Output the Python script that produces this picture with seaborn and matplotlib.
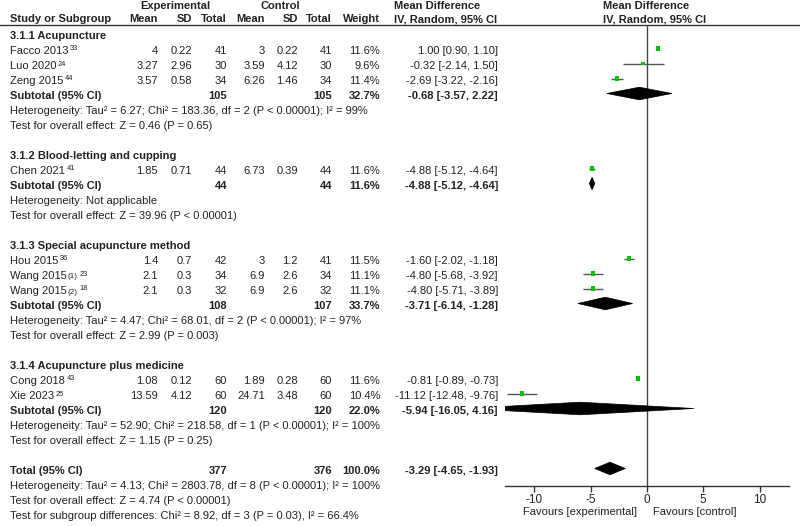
import numpy as np
import pandas as pd
import matplotlib
matplotlib.use("Agg")
import matplotlib.pyplot as plt
from matplotlib.patches import Polygon
import seaborn as sns

# ---- data ----
study = ["Facco 2013", "Luo 2020", "Zeng 2015", "Chen 2021", "Hou 2015",
         "Wang 2015", "Wang 2015", "Cong 2018", "Xie 2023"]
study_tag = ["", "", "", "", "", "(1)", "(2)", "", ""]
study_ref = ["33", "24", "44", "41", "36", "23", "18", "43", "25"]
group = [0, 0, 0, 1, 2, 2, 2, 3, 3]

exp_mean = [4, 3.27, 3.57, 1.85, 1.4, 2.1, 2.1, 1.08, 13.59]
exp_sd = [0.22, 2.96, 0.58, 0.71, 0.7, 0.3, 0.3, 0.12, 4.12]
exp_n = [41, 30, 34, 44, 42, 34, 32, 60, 60]
ctrl_mean = [3, 3.59, 6.26, 6.73, 3, 6.9, 6.9, 1.89, 24.71]
ctrl_sd = [0.22, 4.12, 1.46, 0.39, 1.2, 2.6, 2.6, 0.28, 3.48]
ctrl_n = [41, 30, 34, 44, 41, 34, 32, 60, 60]
weight = [11.6, 9.6, 11.4, 11.6, 11.5, 11.1, 11.1, 11.6, 10.4]
md = [1.00, -0.32, -2.69, -4.88, -1.60, -4.80, -4.80, -0.81, -11.12]
md_lo = [0.90, -2.14, -3.22, -5.12, -2.02, -5.68, -5.71, -0.89, -12.48]
md_hi = [1.10, 1.50, -2.16, -4.64, -1.18, -3.92, -3.89, -0.73, -9.76]

sub_names = ["3.1.1 Acupuncture", "3.1.2 Blood-letting and cupping",
             "3.1.3 Special acupuncture method", "3.1.4 Acupuncture plus medicine"]
sub_exp_n = [105, 44, 108, 120]
sub_ctrl_n = [105, 44, 107, 120]
sub_weight = [32.7, 11.6, 33.7, 22.0]
sub_md = [-0.68, -4.88, -3.71, -5.94]
sub_lo = [-3.57, -5.12, -6.14, -16.05]
sub_hi = [2.22, -4.64, -1.28, 4.16]
sub_het = ["Heterogeneity: Tau² = 6.27; Chi² = 183.36, df = 2 (P < 0.00001); I² = 99%",
           "Heterogeneity: Not applicable",
           "Heterogeneity: Tau² = 4.47; Chi² = 68.01, df = 2 (P < 0.00001); I² = 97%",
           "Heterogeneity: Tau² = 52.90; Chi² = 218.58, df = 1 (P < 0.00001); I² = 100%"]
sub_test = ["Test for overall effect: Z = 0.46 (P = 0.65)",
            "Test for overall effect: Z = 39.96 (P < 0.00001)",
            "Test for overall effect: Z = 2.99 (P = 0.003)",
            "Test for overall effect: Z = 1.15 (P = 0.25)"]

total_exp_n, total_ctrl_n, total_weight = 377, 376, 100.0
total_md, total_lo, total_hi = -3.29, -4.65, -1.93
total_notes = ["Heterogeneity: Tau² = 4.13; Chi² = 2803.78, df = 8 (P < 0.00001); I² = 100%",
               "Test for overall effect: Z = 4.74 (P < 0.00001)",
               "Test for subgroup differences: Chi² = 8.92, df = 3 (P = 0.03), I² = 66.4%"]

x_ticks = [-10, -5, 0, 5, 10]
favours = ["Favours [experimental]", "Favours [control]"]

# ---- style ----
sns.set_style("white")
plt.rcParams["font.family"] = ["Liberation Sans", "DejaVu Sans"]
FS = 8.0
TXT = "#222222"
GREEN = "#00c400"

W, H = 800, 526
fig = plt.figure(figsize=(W / 100, H / 100), dpi=100)
renderer = fig.canvas.get_renderer()

# text layer in pixel coordinates
ax_t = fig.add_axes([0, 0, 1, 1])
ax_t.set_xlim(0, W)
ax_t.set_ylim(H, 0)
ax_t.axis("off")


def row_y(r):
    return 5 + 15 * r


def put(x, r, s, ha="right", bold=False, size=FS, dy=4.0):
    return ax_t.text(x, row_y(r) + dy, s, ha=ha, va="baseline", fontsize=size, color=TXT,
                     fontweight="bold" if bold else "normal")


def right_end(t):
    bb = t.get_window_extent(renderer)
    return ax_t.transData.inverted().transform((bb.x1, bb.y0))[0]


# column right edges
C_EM, C_ESD, C_EN, C_CM, C_CSD, C_CN, C_W, C_CI = 158, 192, 227, 265, 298, 332, 380, 498

put(175, 0, "Experimental", ha="center", bold=True)
put(280, 0, "Control", ha="center", bold=True)
put(394, 0, "Mean Difference", ha="left", bold=True)
put(603, 0, "Mean Difference", ha="left", bold=True)
put(10, 1, "Study or Subgroup", ha="left", bold=True, dy=2.0)
for x, s in zip([C_EM, C_ESD, C_EN, C_CM, C_CSD, C_CN, C_W],
                ["Mean", "SD", "Total", "Mean", "SD", "Total", "Weight"]):
    put(x, 1, s, bold=True, dy=2.0)
put(394, 1, "IV, Random, 95% CI", ha="left", bold=True, dy=2.0)
put(603, 1, "IV, Random, 95% CI", ha="left", bold=True, dy=2.0)
ax_t.axhline(24.5, color="#333333", lw=1)


def ci_text(m, lo, hi):
    return f"{m:.2f} [{lo:.2f}, {hi:.2f}]"


study_rows, sub_rows = [], []
r = 2
for g, name in enumerate(sub_names):
    put(10, r, name, ha="left", bold=True)
    r += 1
    for i in [k for k in range(len(study)) if group[k] == g]:
        t = put(10, r, study[i], ha="left")
        xe = right_end(t)
        if study_tag[i]:
            t2 = put(xe + 1, r, study_tag[i], ha="left", size=FS * 0.72, dy=3.5)
            xe = right_end(t2)
        put(xe + 1.5, r, study_ref[i], ha="left", size=FS * 0.68, dy=0.5)
        put(C_EM, r, f"{exp_mean[i]:g}")
        put(C_ESD, r, f"{exp_sd[i]:g}")
        put(C_EN, r, f"{exp_n[i]}")
        put(C_CM, r, f"{ctrl_mean[i]:g}")
        put(C_CSD, r, f"{ctrl_sd[i]:g}")
        put(C_CN, r, f"{ctrl_n[i]}")
        put(C_W, r, f"{weight[i]:.1f}%")
        put(C_CI, r, ci_text(md[i], md_lo[i], md_hi[i]))
        study_rows.append(r)
        r += 1
    put(10, r, "Subtotal (95% CI)", ha="left", bold=True)
    put(C_EN, r, f"{sub_exp_n[g]}", bold=True)
    put(C_CN, r, f"{sub_ctrl_n[g]}", bold=True)
    put(C_W, r, f"{sub_weight[g]:.1f}%", bold=True)
    put(C_CI, r, ci_text(sub_md[g], sub_lo[g], sub_hi[g]), bold=True)
    sub_rows.append(r)
    put(10, r + 1, sub_het[g], ha="left")
    put(10, r + 2, sub_test[g], ha="left")
    r += 4

total_row = r
put(10, r, "Total (95% CI)", ha="left", bold=True)
put(C_EN, r, f"{total_exp_n}", bold=True)
put(C_CN, r, f"{total_ctrl_n}", bold=True)
put(C_W, r, f"{total_weight:.1f}%", bold=True)
put(C_CI, r, ci_text(total_md, total_lo, total_hi), bold=True)
for k, s in enumerate(total_notes):
    put(10, r + 1 + k, s, ha="left")

# ---- forest panel ----
ax_left, ax_right, ax_top, ax_bot = 505, 789, 24.5, 486
ax_f = fig.add_axes([ax_left / W, 1 - ax_bot / H, (ax_right - ax_left) / W, (ax_bot - ax_top) / H])
ax_f.set_facecolor("none")
off = -1.5  # marks sit slightly above the text rows
ax_f.set_ylim((ax_bot - 5 - off) / 15, (ax_top - 5 - off) / 15)
ax_f.set_xlim(-12.62, 12.62)

ax_f.axvline(0, color="#444444", lw=1, zorder=1)
ax_f.hlines(study_rows, md_lo, md_hi, color="#555555", lw=1, zorder=2)

df = pd.DataFrame({"md": md, "row": study_rows, "weight": weight})
sns.scatterplot(data=df, x="md", y="row", size="weight", sizes=(7, 11), size_norm=(9, 12),
                marker="s", color=GREEN, edgecolor="none", linewidth=0, legend=False,
                ax=ax_f, zorder=3)


def diamond(ax, m, lo, hi, y, h=0.42):
    poly = Polygon([[lo, y], [m, y - h], [hi, y], [m, y + h]], closed=True,
                   facecolor="black", edgecolor="black", lw=0.5, zorder=3)
    ax.add_patch(poly)


for g in range(len(sub_names)):
    diamond(ax_f, sub_md[g], sub_lo[g], sub_hi[g], sub_rows[g])
diamond(ax_f, total_md, total_lo, total_hi, total_row)

ax_f.set_xlabel("")
ax_f.set_ylabel("")
ax_f.set_yticks([])
ax_f.set_xticks(x_ticks)
ax_f.set_xticklabels([f"{t:g}" for t in x_ticks])
ax_f.tick_params(axis="x", direction="out", length=4, width=1, color="#333333",
                 labelsize=FS + 0.5, labelcolor=TXT, pad=2, bottom=True)
for side in ["top", "left", "right"]:
    ax_f.spines[side].set_visible(False)
ax_f.spines["bottom"].set_color("#333333")
ax_f.spines["bottom"].set_linewidth(1)

ax_t.text(637, 515, favours[0], ha="right", va="baseline", fontsize=FS, color=TXT)
ax_t.text(653, 515, favours[1], ha="left", va="baseline", fontsize=FS, color=TXT)

fig.savefig("out.png", dpi=100)
